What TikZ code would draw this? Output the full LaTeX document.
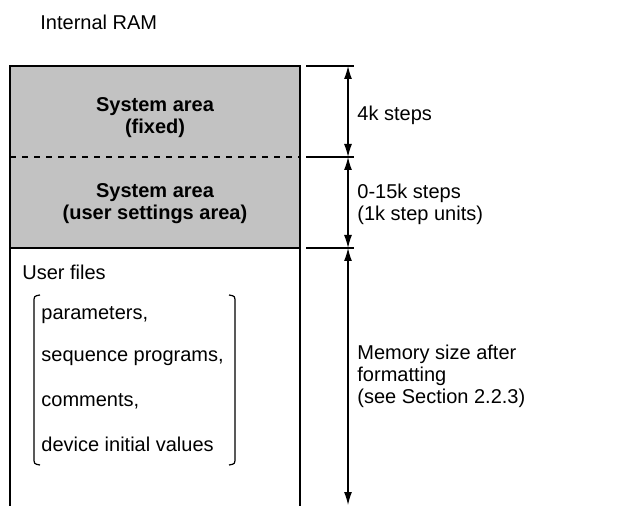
\documentclass[tikz,border=0pt]{standalone}
\usepackage{fontspec}
\setmainfont{Liberation Sans}
\usetikzlibrary{arrows.meta, positioning}

\begin{document}
\begin{tikzpicture}[x=0.5pt, y=-0.5pt,
  txt/.style={font=\fontsize{10}{11}\selectfont, inner sep=0pt, align=left},
  areatxt/.style={font=\fontsize{10}{11}\selectfont\bfseries, inner sep=0pt, align=center},
  dim/.style={{Latex[length=6.5pt,width=4pt]}-{Latex[length=6.5pt,width=4pt]}, line width=0.6pt},
  tick/.style={line width=0.6pt}]
\useasboundingbox (0,0) rectangle (640,506);

% Title
\node[txt, anchor=west] (ram) at (40,22) {Internal RAM};

% System area (shaded part)
\fill[gray!48] (10,66) rectangle (300,248);
\draw[line width=0.6pt] (10,506) -- (10,66) -- (300,66) -- (300,506);
\draw[dashed, line width=0.6pt] (10,157) -- (300,157);
\draw[line width=1.1pt] (10,248) -- (300,248);
\node[areatxt] (fixed) at (155,118) {System area\\(fixed)};
\node[areatxt] (usrset) at (155,204) {System area\\(user settings area)};

% User files
\node[txt, anchor=west] (files) at (22,272) {User files};
\node[txt, anchor=west] (param) at (41,315) {parameters,};
\node[txt, anchor=west] (prog) at (41,358) {sequence programs,};
\node[txt, anchor=west] (comm) at (41,401) {comments,};
\node[txt, anchor=west] (devini) at (41,444) {device initial values};
\draw[line width=0.6pt] (40,295) .. controls (34,296) .. (34,303) -- (34,457) .. controls (34,464) .. (40,465);
\draw[line width=0.6pt] (229,295) .. controls (235,296) .. (235,303) -- (235,457) .. controls (235,464) .. (229,465);

% Dimensions
\coordinate (a0) at (348,66);
\coordinate (a1) at (348,157);
\coordinate (a2) at (348,248);
\coordinate (a3) at (348,505);
\draw[tick] (306,66) -- (354,66);
\draw[tick] (306,157) -- (354,157);
\draw[tick] (306,248) -- (354,248);
\draw[dim] (a0) -- (a1);
\draw[dim] (a1) -- (a2);
\draw[dim] (a2) -- (a3);
\node[txt, anchor=west] (fourk) at (357,115) {4k steps};
\node[txt, anchor=west] (fifteenk) at (357,204) {0-15k steps\\(1k step units)};
\node[txt, anchor=west] (memsize) at (357,376) {Memory size after\\formatting\\(see Section 2.2.3)};
\end{tikzpicture}
\end{document}
